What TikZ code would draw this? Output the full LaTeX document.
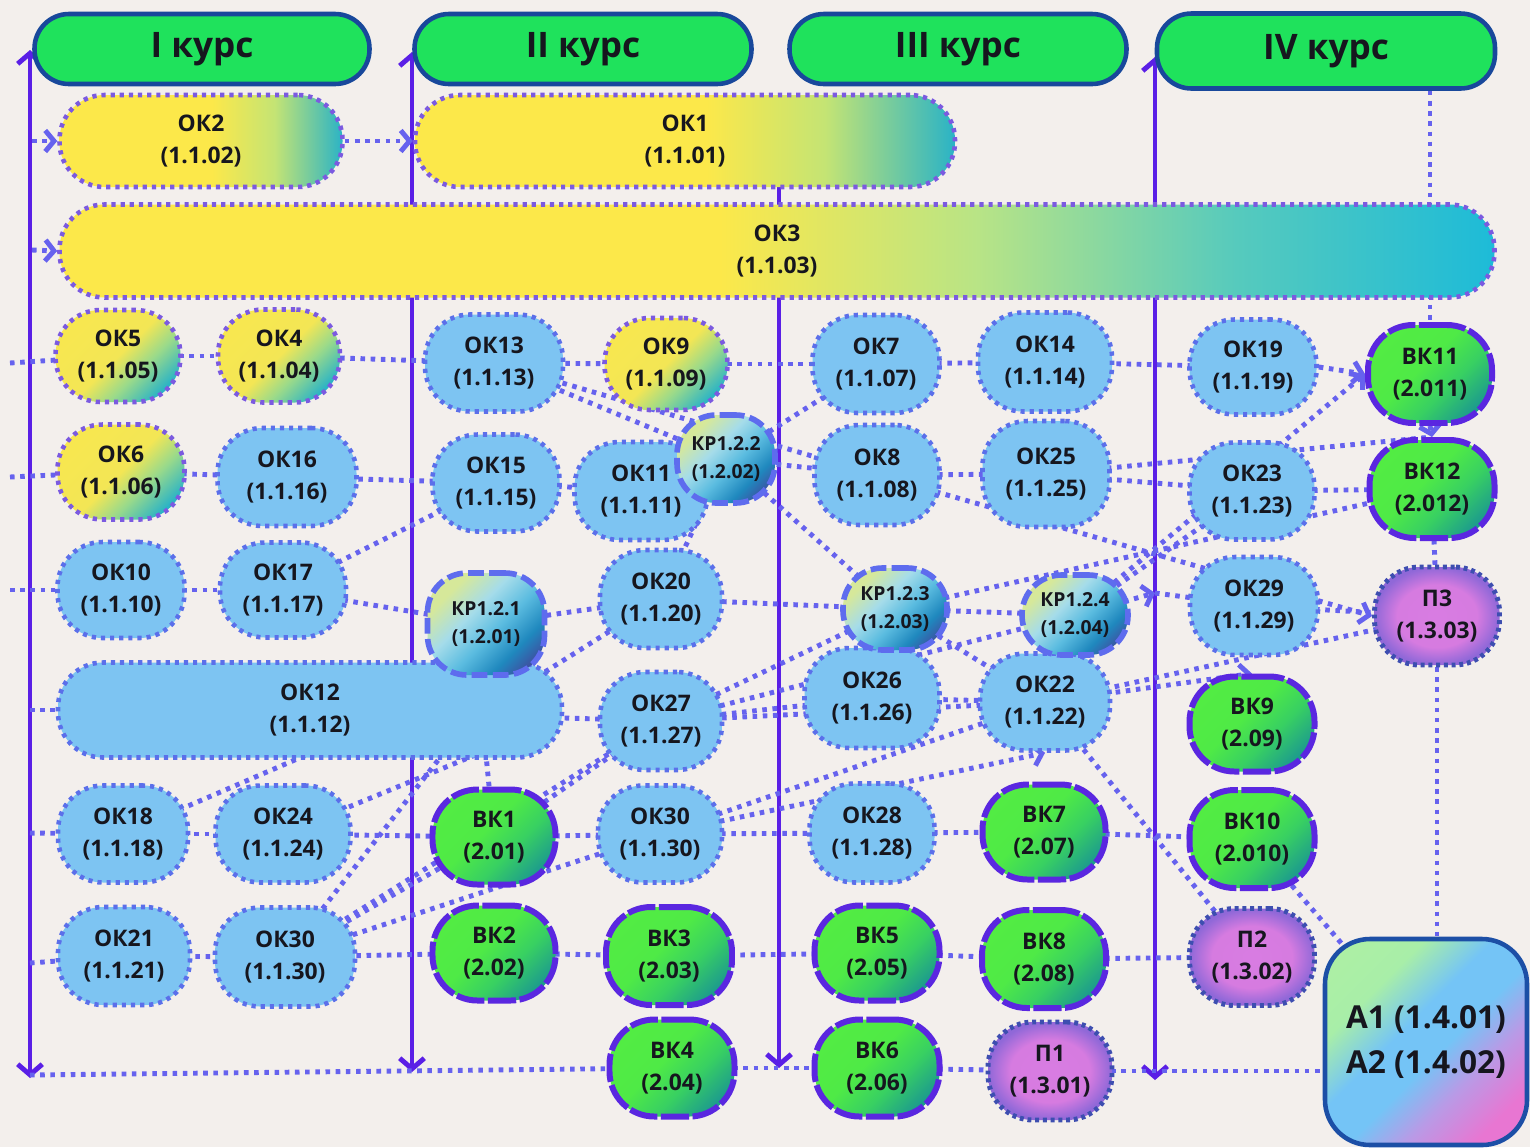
\documentclass[tikz,border=0pt]{standalone}
\usepackage{fontspec}
\setmainfont{Open Sans}
\usetikzlibrary{arrows.meta,calc}
\definecolor{bgc}{HTML}{F3EFEC}
\definecolor{hdrc}{HTML}{1FE25C}
\definecolor{hdrb}{HTML}{18489B}
\definecolor{vline}{HTML}{5A1FE6}
\definecolor{lnk}{HTML}{6662EE}
\definecolor{okb}{HTML}{7DC4F2}
\definecolor{okbd}{HTML}{5B6FEA}
\definecolor{okyd}{HTML}{7B5AE0}
\definecolor{vkb}{HTML}{5A27E0}
\definecolor{krb}{HTML}{5E6CEE}
\definecolor{pb}{HTML}{3D4EB0}
\definecolor{abd}{HTML}{1C4FA6}
\definecolor{txt}{HTML}{16161E}
\definecolor{ylw}{HTML}{FCE84A}
\definecolor{ylw2}{HTML}{F3E655}
\definecolor{tealc}{HTML}{2AB3C6}
\definecolor{grnm}{HTML}{9ADA8A}
\definecolor{ok3a}{HTML}{B8E486}
\definecolor{ok3b}{HTML}{56CABD}
\definecolor{ok3c}{HTML}{1DBBD8}
\definecolor{oky2}{HTML}{C4E474}
\definecolor{vka}{HTML}{1C9A8E}
\definecolor{vkm}{HTML}{38D062}
\definecolor{vkc}{HTML}{4FEA46}
\definecolor{vkd}{HTML}{56EE40}
\definecolor{kpa}{HTML}{3F4FA0}
\definecolor{kpb}{HTML}{1F88BE}
\definecolor{kpc}{HTML}{5BBCE0}
\definecolor{kpd}{HTML}{A5DCEA}
\definecolor{kpe}{HTML}{D6E89A}
\definecolor{pka}{HTML}{D87CE2}
\definecolor{pkb}{HTML}{D67BE0}
\definecolor{pkc}{HTML}{9068D8}
\definecolor{pkd}{HTML}{7F60D4}
\definecolor{aa}{HTML}{E876D2}
\definecolor{ab}{HTML}{B99AE6}
\definecolor{ac}{HTML}{74C4F6}
\definecolor{ad}{HTML}{A8EEA8}
\definecolor{ae}{HTML}{B4F29E}
\pgfdeclarehorizontalshading{ylwwide}{100bp}{color(0bp)=(ylw); color(25bp)=(ylw); color(52bp)=(ylw); color(63bp)=(oky2); color(75bp)=(tealc); color(100bp)=(tealc)}
\pgfdeclarehorizontalshading{okthree}{100bp}{color(0bp)=(ylw); color(25bp)=(ylw); color(48bp)=(ylw); color(57bp)=(ok3a); color(66bp)=(ok3b); color(75bp)=(ok3c); color(100bp)=(ok3c)}
\pgfdeclareverticalshading{ylwdiag}{100bp}{color(0bp)=(tealc); color(24bp)=(tealc); color(38bp)=(grnm); color(50bp)=(ylw2); color(100bp)=(ylw)}
\pgfdeclareverticalshading{vkshade}{100bp}{color(0bp)=(vka); color(24bp)=(vka); color(40bp)=(vkm); color(55bp)=(vkc); color(100bp)=(vkd)}
\pgfdeclareverticalshading{kpshade}{100bp}{color(0bp)=(kpa); color(22bp)=(kpa); color(32bp)=(kpb); color(45bp)=(kpc); color(58bp)=(kpd); color(72bp)=(kpe); color(100bp)=(kpe)}
\pgfdeclareradialshading{pshade}{\pgfpoint{0bp}{0bp}}{color(0bp)=(pka); color(16bp)=(pkb); color(25bp)=(pkc); color(50bp)=(pkd)}
\pgfdeclareverticalshading{ashade}{100bp}{color(0bp)=(aa); color(24bp)=(aa); color(36bp)=(ab); color(46bp)=(ac); color(56bp)=(ac); color(68bp)=(ad); color(100bp)=(ae)}
\pgfdeclarelayer{back}
\pgfdeclarelayer{lines}
\pgfsetlayers{back,lines,main}
\tikzset{
 nb/.style={font=\bfseries\fontsize{13}{18.5}\selectfont, text=txt, align=center, inner sep=0pt, rounded corners=0.9cm},
 sz/.style 2 args={minimum width=#1*0.02cm, minimum height=#2*0.02cm},
 okn/.style={nb, fill=okb, draw=okbd, line width=2.6pt, dash pattern=on 2.4pt off 2.8pt},
 oky/.style={nb, draw=okyd, line width=2.6pt, dash pattern=on 2.4pt off 2.8pt, shade, shading=ylwdiag, shading angle=45},
 okw/.style={nb, draw=okyd, line width=2.6pt, dash pattern=on 2.4pt off 2.8pt, shade, shading=ylwwide},
 vkn/.style={nb, draw=vkb, line width=3.4pt, dash pattern=on 16pt off 2pt, shade, shading=vkshade, shading angle=45},
 kpn/.style={nb, font=\bfseries\fontsize{11}{15.5}\selectfont, draw=krb, line width=3.2pt, dash pattern=on 9pt off 3pt, shade, shading=kpshade, shading angle=45, rounded corners=0.79cm},
 pn/.style={nb, draw=pb, line width=2.8pt, dash pattern=on 2.2pt off 2.2pt, shade, shading=pshade},
 hdr/.style={font=\bfseries\fontsize{20}{24}\selectfont, text=txt, fill=hdrc, draw=hdrb, line width=2.6pt, rounded corners=0.69cm, inner sep=0pt},
 abox/.style={font=\bfseries\fontsize{18}{25.5}\selectfont, text=txt, align=center, inner sep=0pt, draw=abd, line width=2.6pt, rounded corners=0.9cm, shade, shading=ashade, shading angle=45},
 lk/.style={draw=lnk, line width=2.8pt, dash pattern=on 2.6pt off 3.2pt},
 lka/.style={lk, -{Straight Barb[length=5pt,width=12pt]}},
 vl/.style={draw=vline, line width=2.8pt, {Straight Barb[length=6pt,width=14pt]}-{Straight Barb[length=6pt,width=14pt]}},
 vld/.style={draw=vline, line width=2.8pt, -{Straight Barb[length=6pt,width=14pt]}}
}
\begin{document}
\begin{tikzpicture}[x=0.02cm,y=-0.02cm]
\useasboundingbox (0,0) rectangle (1530,1147);
\begin{pgfonlayer}{back}
\fill[bgc] (0,0) rectangle (1530,1147);
\end{pgfonlayer}
% headers
\node[hdr, sz={335}{70}] (h1) at (202,49) {I курс};
\node[hdr, sz={337}{70}] (h2) at (583,49) {II курс};
\node[hdr, sz={337}{70}] (h3) at (958,49) {III курс};
\node[hdr, sz={338}{75}] (h4) at (1326,51) {IV курс};
% wide nodes
\node[okw, sz={283}{92}] (ok2) at (201,141) {ОК2\\(1.1.02)};
\node[okw, sz={540}{92}] (ok1) at (685,141) {ОК1\\(1.1.01)};
\node[okw, shading=okthree, sz={1435}{93}] (ok3) at (777,251) {ОК3\\(1.1.03)};
\node[okn, sz={504}{95}] (ok12) at (310,710) {ОК12\\(1.1.12)};
% blue nodes
\node[okn, sz={138}{97}] (ok13) at (494,363) {ОК13\\(1.1.13)};
\node[okn, sz={127}{98}] (ok7) at (876,364) {ОК7\\(1.1.07)};
\node[okn, sz={134}{99}] (ok14) at (1045,362) {ОК14\\(1.1.14)};
\node[okn, sz={127}{95}] (ok19) at (1253,367) {ОК19\\(1.1.19)};
\node[okn, sz={139}{98}] (ok16) at (287,477) {ОК16\\(1.1.16)};
\node[okn, sz={127}{97}] (ok15) at (496,483) {ОК15\\(1.1.15)};
\node[okn, sz={133}{98}] (ok11) at (641,491) {ОК11\\(1.1.11)};
\node[okn, sz={125}{100}] (ok8) at (877,475) {ОК8\\(1.1.08)};
\node[okn, sz={127}{106}] (ok25) at (1046,474) {ОК25\\(1.1.25)};
\node[okn, sz={125}{97}] (ok23) at (1252,491) {ОК23\\(1.1.23)};
\node[okn, sz={127}{96}] (ok10) at (121,590) {ОК10\\(1.1.10)};
\node[okn, sz={126}{95}] (ok17) at (283,590) {ОК17\\(1.1.17)};
\node[okn, sz={122}{98}] (ok20) at (661,599) {ОК20\\(1.1.20)};
\node[okn, sz={128}{98}] (ok29) at (1254,606) {ОК29\\(1.1.29)};
\node[okn, sz={122}{98}] (ok27) at (661,721) {ОК27\\(1.1.27)};
\node[okn, sz={135}{100}] (ok26) at (872,698) {ОК26\\(1.1.26)};
\node[okn, sz={130}{97}] (ok22) at (1045,702) {ОК22\\(1.1.22)};
\node[okn, sz={130}{97}] (ok18) at (123,834) {ОК18\\(1.1.18)};
\node[okn, sz={135}{97}] (ok24) at (283,834) {ОК24\\(1.1.24)};
\node[okn, sz={124}{97}] (ok30) at (660,834) {ОК30\\(1.1.30)};
\node[okn, sz={125}{99}] (ok28) at (872,833) {ОК28\\(1.1.28)};
\node[okn, sz={132}{98}] (ok21) at (124,956) {ОК21\\(1.1.21)};
\node[okn, sz={140}{99}] (ok30b) at (285,957) {ОК30\\(1.1.30)};
% yellow nodes
\node[oky, sz={125}{92}] (ok5) at (118,356) {ОК5\\(1.1.05)};
\node[oky, sz={122}{93}] (ok4) at (279,356) {ОК4\\(1.1.04)};
\node[oky, sz={123}{92}] (ok9) at (666,364) {ОК9\\(1.1.09)};
\node[oky, sz={127}{95}] (ok6) at (121,472) {ОК6\\(1.1.06)};
% green nodes
\node[vkn, sz={124}{98}] (vk11) at (1430,374) {ВК11\\(2.011)};
\node[vkn, sz={125}{98}] (vk12) at (1432,489) {ВК12\\(2.012)};
\node[vkn, sz={125}{95}] (vk9) at (1252,724) {ВК9\\(2.09)};
\node[vkn, sz={123}{95}] (vk1) at (494,837) {ВК1\\(2.01)};
\node[vkn, sz={123}{95}] (vk7) at (1044,832) {ВК7\\(2.07)};
\node[vkn, sz={125}{98}] (vk10) at (1252,839) {ВК10\\(2.010)};
\node[vkn, sz={123}{95}] (vk2) at (494,953) {ВК2\\(2.02)};
\node[vkn, sz={126}{98}] (vk3) at (669,956) {ВК3\\(2.03)};
\node[vkn, sz={125}{95}] (vk5) at (877,953) {ВК5\\(2.05)};
\node[vkn, sz={124}{98}] (vk8) at (1044,959) {ВК8\\(2.08)};
\node[vkn, sz={125}{97}] (vk4) at (672,1068) {ВК4\\(2.04)};
\node[vkn, sz={125}{97}] (vk6) at (877,1068) {ВК6\\(2.06)};
% practice nodes
\node[pn, sz={125}{98}] (p3) at (1437,616) {П3\\(1.3.03)};
\node[pn, sz={125}{97}] (p2) at (1252,957) {П2\\(1.3.02)};
\node[pn, sz={124}{98}] (p1) at (1050,1071) {П1\\(1.3.01)};
% attestation
\node[abox, sz={202}{206}] (a) at (1426,1042) {А1 (1.4.01)\\А2 (1.4.02)};
% course works (on top)
\node[kpn, sz={98}{88}] (kp122) at (726,459) {КР1.2.2\\(1.2.02)};
\node[kpn, sz={117}{102}] (kp121) at (486,624) {КР1.2.1\\(1.2.01)};
\node[kpn, sz={104}{82}] (kp123) at (895,609) {КР1.2.3\\(1.2.03)};
\node[kpn, sz={106}{80}] (kp124) at (1075,615) {КР1.2.4\\(1.2.04)};
% free coordinates
\coordinate (v1t) at (30,50); \coordinate (v1b) at (30,1078);
\coordinate (v2t) at (412,52); \coordinate (v2b) at (412,1072);
\coordinate (v3t) at (779,160); \coordinate (v3b) at (779,1068);
\coordinate (v4t) at (1155,57); \coordinate (v4b) at (1155,1080);
\coordinate (r1) at (10,363); \coordinate (r2) at (10,477); \coordinate (r3) at (10,590);
\coordinate (r4) at (30,710); \coordinate (r5) at (30,833); \coordinate (r6) at (30,963);
\coordinate (r7) at (30,1075);
\coordinate (c2) at (32,141); \coordinate (c3) at (32,250); \coordinate (c4) at (1155,593);
\begin{pgfonlayer}{lines}
% vertical course separators
\draw[vl] (v1t) -- (v1b);
\draw[vl] (v2t) -- (v2b);
\draw[vld] (v3t) -- (v3b);
\draw[vl] (v4t) -- (v4b);
% rows
\foreach \a/\b in {r1/ok5, ok5/ok4, ok4/ok13, ok13/ok9, ok9/ok7, ok7/ok14, ok14/ok19,
  r2/ok6, ok6/ok16, ok16/ok15, ok15/ok11, ok11/kp122, kp122/ok8, ok8/ok25, ok25/ok23, ok23/vk12,
  r3/ok10, ok10/ok17, ok17/kp121, kp121/ok20, ok20/kp123, kp123/kp124, c4/ok29, ok29/p3,
  r4/ok12, ok12/ok27, ok27/ok26, ok26/ok22,
  r5/ok18, ok18/ok24, ok24/vk1, vk1/ok30, ok30/ok28, ok28/vk7, vk7/vk10,
  r6/ok21, ok21/ok30b, ok30b/vk2, vk2/vk3, vk3/vk5, vk5/vk8, vk8/p2,
  r7/vk4, vk4/vk6, vk6/p1}
  \draw[lk] (\a.center) -- (\b.center);
\draw[lk] (p1.center) -- (p1.center -| a.west);
% diagonals
\foreach \a/\b in {ok13/ok8, ok13/kp122, kp122/ok7, kp122/kp123, kp122/ok20, ok17/ok15,
  kp124/ok23, kp123/vk12, ok22/p3, ok22/p2, vk10/a, vk1/ok27, ok30b/ok30, ok30b/vk1,
  ok30b/ok27, ok27/kp123, ok27/kp124, ok27/ok22, ok30/ok22, kp123/ok22}
  \draw[lk] (\a.center) -- (\b.center);
\draw[lk] (ok20.center) -- ($(ok12.east)+(-45,-22)$);
\draw[lk] (ok18.center) -- ($(ok12.south)+(20,-15)$);
\draw[lk] (ok24.center) -- ($(ok12.south)+(190,-15)$);
\draw[lk] (ok30b.center) -- ($(ok12.south)+(140,-15)$);
\draw[lk] (vk1.center) -- ($(ok12.south)+(175,-15)$);
\draw[lk] (ok25.center) -- (vk12.north);
% right vertical chain
\draw[lk] (h4.south -| vk11.north) -- (vk11.north);
\draw[lk] (vk12.center) -- (p3.center);
\draw[lk] (p3.center) -- (p3.center |- a.north);
% arrows
\draw[lka] (c2) -- (ok2.west);
\draw[lka] (c3) -- (ok3.west);
\draw[lka] (ok2.east) -- (ok1.west);
\draw[lka] (ok19.east) -- (vk11.west);
\draw[lka] (kp124.center) -- (vk11.west);
\draw[lka] (kp124.center) -- (c4);
\draw[lka] (ok8.center) -- (p3.west);
\draw[lka] (vk11.south) -- (vk12.north);
\draw[lka] (ok22.center) -- (vk9.north);
\draw[lka] (ok30.center) -- (ok22.south);
\end{pgfonlayer}
\end{tikzpicture}
\end{document}
